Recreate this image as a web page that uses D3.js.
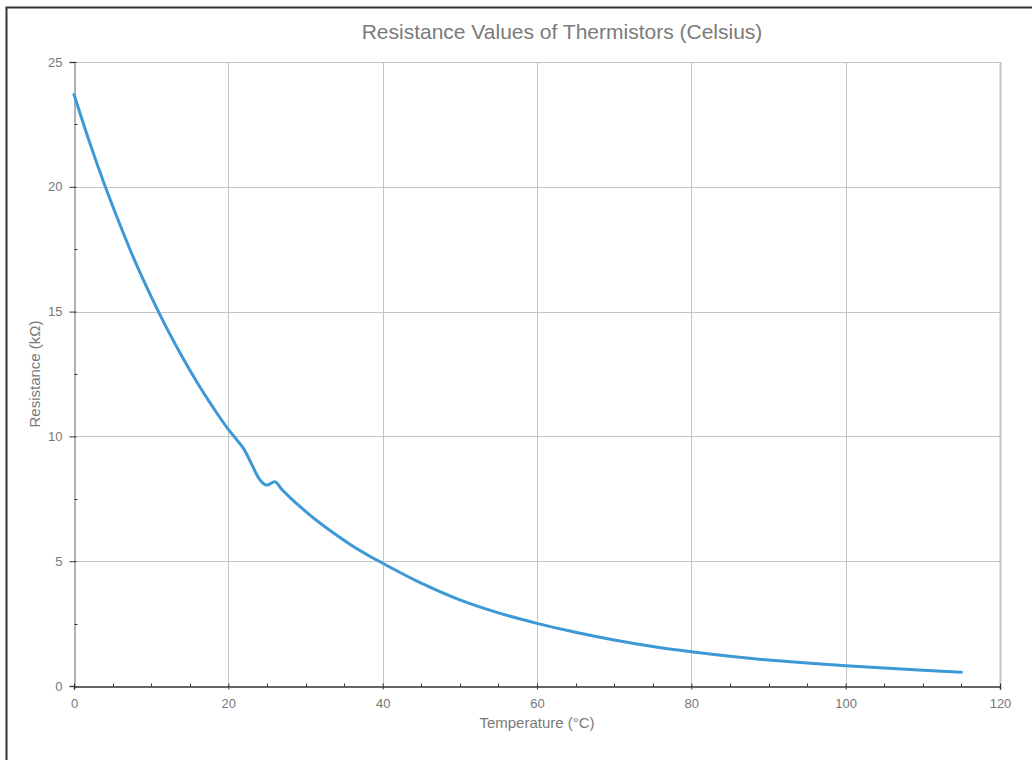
<!DOCTYPE html>
<html>
<head>
<meta charset="utf-8">
<script src="https://cdn.jsdelivr.net/npm/d3@7"></script>
<style>
  body { margin: 0; background: #fff; }
  svg { display: block; font-family: "Liberation Sans", Arial, sans-serif; }
</style>
</head>
<body>
<div id="root"></div>
<script>
// temperature (°C) and resistance (kΩ)
const temps = [0, 2, 4, 6, 8, 10, 12, 14, 16, 18, 20, 21, 22, 23, 24, 25, 26, 27, 28, 30, 32, 34, 36, 38, 40, 45, 50, 55, 60, 65, 70, 75, 80, 85, 90, 95, 100, 105, 110, 115];
const resist = [23.7, 21.8, 20.05, 18.45, 16.95, 15.6, 14.35, 13.2, 12.14, 11.17, 10.28, 9.9, 9.5, 8.9, 8.3, 8.05, 8.18, 7.85, 7.55, 7.0, 6.5, 6.05, 5.63, 5.26, 4.92, 4.12, 3.45, 2.93, 2.51, 2.15, 1.84, 1.58, 1.37, 1.19, 1.04, 0.92, 0.81, 0.72, 0.63, 0.55];
const xTicks = [0, 20, 40, 60, 80, 100, 120];
const yTicks = [0, 5, 10, 15, 20, 25];

const width = 1032;
const height = 760;
const margin = {left: 74, right: 32, top: 62, bottom: 74};

const data = temps.map((t, i) => ({t: t, r: resist[i]}));

const x = d3.scaleLinear().domain([0, 120]).range([margin.left, width - margin.right]);
const y = d3.scaleLinear().domain([0, 25]).range([height - margin.bottom, margin.top]);

const svg = d3.select("#root")
  .append("svg")
    .attr("width", width)
    .attr("height", height);

// outer frame (only left and top edges are visible in the window)
svg.append("path")
  .attr("d", "M6.5,760V7.5H1032")
  .attr("fill", "none")
  .attr("stroke", "#333")
  .attr("stroke-width", 2);

// title
svg.append("text")
  .attr("x", 562)
  .attr("y", 39)
  .attr("text-anchor", "middle")
  .attr("fill", "#7a7a7a")
  .style("font-size", "21px")
  .text("Resistance Values of Thermistors (Celsius)");

//grid
const grid = svg.append("g").attr("stroke", "#c4c4c4").attr("stroke-width", 1);
grid.selectAll("line.v")
  .data(xTicks.filter(d => d > 0))
  .join("line")
    .attr("class", "v")
    .attr("x1", d => Math.round(x(d)) + 0.5)
    .attr("x2", d => Math.round(x(d)) + 0.5)
    .attr("y1", y(25))
    .attr("y2", y(0))
    .attr("stroke-width", d => d === 120 ? 2 : 1);
grid.selectAll("line.h")
  .data(yTicks.filter(d => d > 0))
  .join("line")
    .attr("class", "h")
    .attr("x1", x(0))
    .attr("x2", x(120))
    .attr("y1", d => Math.round(y(d)) + 0.5)
    .attr("y2", d => Math.round(y(d)) + 0.5);

// y axis
const yAxis = svg.append("g")
  .attr("transform", `translate(${Math.round(x(0)) + 0.5},0)`)
  .call(d3.axisLeft(y).tickValues(yTicks).tickSize(5).tickPadding(7));
yAxis.select(".domain").attr("stroke", "#999").attr("stroke-width", 1.5);
yAxis.selectAll(".tick line").attr("stroke", "#333").attr("x2", -5).attr("x1", 2);
yAxis.selectAll(".tick text").attr("fill", "#777").style("font-size", "13px");
yAxis.append("g")
  .selectAll("line")
  .data(d3.range(2.5, 25, 5))
  .join("line")
    .attr("x1", 0)
    .attr("x2", 3)
    .attr("y1", d => Math.round(y(d)) + 0.5)
    .attr("y2", d => Math.round(y(d)) + 0.5)
    .attr("stroke", "#333");

// x axis
const xAxis = svg.append("g")
  .attr("transform", `translate(0,${Math.round(y(0)) + 0.5})`)
  .call(d3.axisBottom(x).tickValues(xTicks).tickSize(3).tickPadding(9));
xAxis.select(".domain").attr("stroke", "#333").attr("stroke-width", 1.5);
xAxis.selectAll(".tick line").attr("stroke", "#333").attr("y1", -3).attr("y2", 3);
xAxis.selectAll(".tick text").attr("fill", "#777").style("font-size", "13px");
xAxis.append("g")
  .selectAll("line")
  .data(d3.range(5, 120, 5).filter(d => d % 20 !== 0))
  .join("line")
    .attr("x1", d => Math.round(x(d)) + 0.5)
    .attr("x2", d => Math.round(x(d)) + 0.5)
    .attr("y1", -3)
    .attr("y2", 0)
    .attr("stroke", "#333");

// axis titles
svg.append("text")
  .attr("x", (x(0) + x(120)) / 2)
  .attr("y", 728)
  .attr("text-anchor", "middle")
  .attr("fill", "#7a7a7a")
  .style("font-size", "15px")
  .text("Temperature (°C)");

svg.append("text")
  .attr("transform", `translate(40,${(y(0) + y(25)) / 2}) rotate(-90)`)
  .attr("text-anchor", "middle")
  .attr("fill", "#7a7a7a")
  .style("font-size", "15px")
  .text("Resistance (kΩ)");

// curve
const line = d3.line()
  .x(d => x(d.t))
  .y(d => y(d.r))
  .curve(d3.curveMonotoneX);

svg.append("path")
  .datum(data)
  .attr("fill", "none")
  .attr("stroke", "#3d98d6")
  .attr("stroke-width", 3)
  .attr("stroke-linecap", "round")
  .attr("d", line);
</script>
</body>
</html>
